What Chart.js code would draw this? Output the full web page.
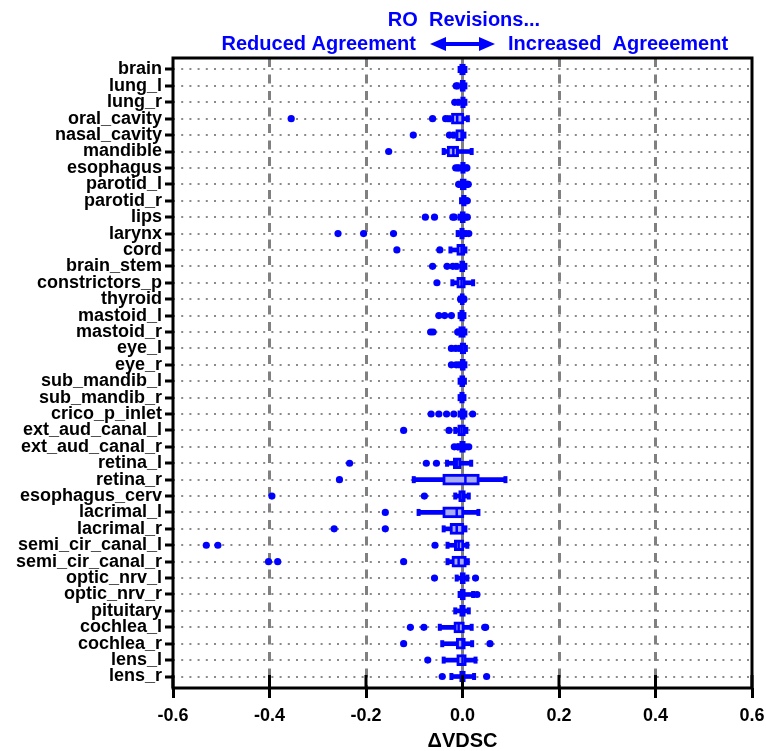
<!DOCTYPE html>
<html>
<head>
<meta charset="utf-8">
<script src="https://cdn.jsdelivr.net/npm/chart.js@4.4.0/dist/chart.umd.min.js"></script>
<style>
  html, body { margin: 0; padding: 0; background: #fff; }
  #wrap { width: 766px; height: 751px; }
</style>
</head>
<body>
<div id="wrap"><canvas id="chart"></canvas></div>
<script>
const structures = ['brain', 'lung_l', 'lung_r', 'oral_cavity', 'nasal_cavity', 'mandible', 'esophagus',
  'parotid_l', 'parotid_r', 'lips', 'larynx', 'cord', 'brain_stem', 'constrictors_p', 'thyroid',
  'mastoid_l', 'mastoid_r', 'eye_l', 'eye_r', 'sub_mandib_l', 'sub_mandib_r', 'crico_p_inlet',
  'ext_aud_canal_l', 'ext_aud_canal_r', 'retina_l', 'retina_r', 'esophagus_cerv', 'lacrimal_l',
  'lacrimal_r', 'semi_cir_canal_l', 'semi_cir_canal_r', 'optic_nrv_l', 'optic_nrv_r', 'pituitary',
  'cochlea_l', 'cochlea_r', 'lens_l', 'lens_r'];

// box plot values (delta VDSC), one entry per structure
const whiskLow = [-0.006, -0.010, -0.008, -0.028, -0.018, -0.039, -0.006, -0.006, -0.003, -0.006,
  -0.010, -0.025, -0.012, -0.021, -0.005, -0.006, -0.009, -0.006, -0.006, -0.006, -0.006, -0.006,
  -0.015, -0.007, -0.032, -0.101, -0.015, -0.091, -0.039, -0.031, -0.031, -0.012, -0.006, -0.015,
  -0.047, -0.042, -0.039, -0.023];
const q1 = [-0.006, -0.005, -0.004, -0.023, -0.014, -0.032, -0.004, -0.005, -0.002, -0.005,
  -0.006, -0.012, -0.006, -0.012, -0.005, -0.006, -0.008, -0.005, -0.005, -0.006, -0.006, -0.005,
  -0.010, -0.006, -0.019, -0.041, -0.008, -0.041, -0.026, -0.017, -0.022, -0.005, -0.005, -0.006,
  -0.018, -0.013, -0.012, -0.006];
const median = [0.000, 0.000, 0.001, -0.011, -0.002, -0.019, 0.001, 0.001, 0.002, 0.000,
  -0.001, -0.002, 0.000, -0.002, 0.000, -0.001, -0.001, 0.000, 0.000, 0.000, 0.000, 0.000,
  -0.002, 0.000, -0.012, 0.006, 0.000, -0.012, -0.012, -0.008, -0.008, 0.000, 0.000, 0.000,
  -0.008, 0.000, 0.000, 0.000];
const q3 = [0.006, 0.006, 0.006, 0.003, 0.003, -0.008, 0.006, 0.008, 0.008, 0.006,
  0.004, 0.005, 0.005, 0.006, 0.004, 0.004, 0.006, 0.007, 0.006, 0.005, 0.004, 0.006,
  0.006, 0.006, -0.003, 0.035, 0.006, 0.003, 0.003, 0.003, 0.008, 0.006, 0.006, 0.006,
  0.004, 0.006, 0.008, 0.006];
const whiskHigh = [0.006, 0.006, 0.006, 0.011, 0.004, 0.019, 0.008, 0.008, 0.008, 0.006,
  0.006, 0.006, 0.006, 0.022, 0.004, 0.004, 0.006, 0.007, 0.006, 0.005, 0.004, 0.006,
  0.008, 0.006, 0.018, 0.089, 0.013, 0.033, 0.006, 0.010, 0.011, 0.010, 0.022, 0.013,
  0.019, 0.020, 0.027, 0.024];
const outliers = [
  [], [-0.013], [-0.016], [-0.355, -0.062, -0.035], [-0.102, -0.027], [-0.153],
  [-0.014, -0.010, 0.009], [-0.008, 0.010, 0.012], [0.010],
  [-0.077, -0.058, -0.017, -0.020, 0.010], [-0.258, -0.205, -0.143, 0.013],
  [-0.136, -0.047], [-0.062, -0.032, -0.020], [-0.053], [-0.004, 0.003],
  [-0.049, -0.037, -0.023], [-0.061, -0.066, -0.010], [-0.014, -0.023], [-0.023, -0.013],
  [], [], [-0.065, -0.049, -0.033, -0.018, 0.021], [-0.122, -0.028], [-0.017, -0.010, 0.013],
  [-0.234, -0.075, -0.054], [-0.255], [-0.395, -0.079], [-0.160], [-0.266, -0.160],
  [-0.531, -0.507, -0.057], [-0.402, -0.383, -0.122], [-0.058, 0.027], [0.030], [],
  [-0.108, -0.080, 0.046, 0.048], [-0.122, 0.057], [-0.072], [-0.042, 0.050]
];
const xTicks = [-0.6, -0.4, -0.2, 0.0, 0.2, 0.4, 0.6];

const BLUE = '#0000ff';
const FONT = '"Liberation Sans", Arial, sans-serif';

const rows = structures.map((s, i) => i);

const framePlugin = {
  id: 'frame',
  beforeDatasetsDraw(chart) {
    const {ctx, chartArea: a, scales: {x}} = chart;
    const zx = x.getPixelForValue(0);
    ctx.save();
    ctx.strokeStyle = '#808080';
    ctx.lineWidth = 3;
    ctx.beginPath();
    ctx.moveTo(zx, a.top);
    ctx.lineTo(zx, a.bottom);
    ctx.stroke();
    ctx.restore();
  },
  afterDraw(chart) {
    const {ctx, chartArea: a, scales: {x}} = chart;
    ctx.save();
    ctx.strokeStyle = '#000';
    ctx.lineWidth = 3;
    ctx.strokeRect(a.left, a.top, a.right - a.left, a.bottom - a.top);
    xTicks.forEach(v => {
      const px = x.getPixelForValue(v);
      ctx.beginPath();
      ctx.moveTo(px, a.bottom - 13);
      ctx.lineTo(px, a.bottom);
      ctx.stroke();
    });

    // header text
    ctx.fillStyle = BLUE;
    ctx.font = 'bold 20px ' + FONT;
    ctx.textBaseline = 'middle';
    ctx.textAlign = 'center';
    ctx.fillText('RO  Revisions...', 464, 20);
    ctx.textAlign = 'right';
    ctx.fillText('Reduced Agreement', 416, 44);
    ctx.textAlign = 'left';
    ctx.fillText('Increased  Agreeement', 508, 44);

    // double arrow
    const y = 44, l = 430, r = 495;
    ctx.strokeStyle = BLUE;
    ctx.lineWidth = 4;
    ctx.beginPath();
    ctx.moveTo(l + 10, y);
    ctx.lineTo(r - 10, y);
    ctx.stroke();
    ctx.beginPath();
    ctx.moveTo(l, y); ctx.lineTo(l + 16, y - 7); ctx.lineTo(l + 16, y + 7); ctx.closePath();
    ctx.moveTo(r, y); ctx.lineTo(r - 16, y - 7); ctx.lineTo(r - 16, y + 7); ctx.closePath();
    ctx.fill();
    ctx.restore();
  }
};

new Chart(document.getElementById('chart'), {
  type: 'scatter',
  data: {
    datasets: [
      {
        type: 'bar',
        indexAxis: 'y',
        data: rows.map(i => ({x: [whiskLow[i], whiskHigh[i]], y: i})),
        backgroundColor: BLUE,
        barThickness: 4,
        grouped: false,
        order: 5
      },
      {
        type: 'bar',
        indexAxis: 'y',
        data: rows.map(i => ({x: [q1[i], q3[i]], y: i})),
        backgroundColor: 'rgb(168,172,245)',
        borderColor: BLUE,
        borderWidth: 3,
        borderSkipped: false,
        barThickness: 11,
        grouped: false,
        order: 4
      },
      {
        data: rows.map(i => ({x: median[i], y: i})),
        pointStyle: 'line',
        rotation: 90,
        radius: 5,
        borderWidth: 2.5,
        borderColor: BLUE,
        order: 3
      },
      {
        data: rows.flatMap(i => [{x: whiskLow[i], y: i}, {x: whiskHigh[i], y: i}]),
        pointStyle: 'line',
        rotation: 90,
        radius: 3.5,
        borderWidth: 4,
        borderColor: BLUE,
        order: 3
      },
      {
        data: rows.flatMap(i => outliers[i].map(v => ({x: v, y: i}))),
        pointStyle: 'circle',
        radius: 3.6,
        borderWidth: 0,
        backgroundColor: BLUE,
        order: 1
      }
    ]
  },
  options: {
    responsive: true,
    maintainAspectRatio: false,
    animation: false,
    devicePixelRatio: 1,
    layout: {padding: {top: 58, right: 14, left: 0, bottom: 0}},
    plugins: {
      legend: {display: false},
      tooltip: {enabled: false}
    },
    scales: {
      x: {
        type: 'linear',
        min: -0.6,
        max: 0.6,
        afterBuildTicks: s => { s.ticks = xTicks.map(v => ({value: v})); },
        afterFit: s => { s.height = 63; s.paddingLeft = 0; s.paddingRight = 0; },
        border: {display: false, dash: [9, 7.5]},
        grid: {
          color: c => (c.tick && Math.abs(c.tick.value) > 0.01 && Math.abs(c.tick.value) < 0.59) ? '#808080' : 'rgba(0,0,0,0)',
          lineWidth: 3,
          tickColor: '#000',
          tickLength: 10,
          tickWidth: 3
        },
        ticks: {
          color: '#000',
          padding: 7,
          font: {family: FONT, size: 18, weight: 'bold'},
          callback: v => v.toFixed(1)
        },
        title: {
          display: true,
          text: 'ΔVDSC',
          color: '#000',
          padding: {top: 0, bottom: -2},
          font: {family: FONT, size: 20, weight: 'bold'}
        }
      },
      y: {
        type: 'linear',
        reverse: true,
        min: -0.7,
        max: 37.7,
        offset: false,
        afterBuildTicks: s => { s.ticks = rows.map(i => ({value: i})); },
        afterFit: s => { s.width = 173; },
        border: {display: false, dash: [2, 6.2]},
        grid: {
          color: '#8a8a8a',
          lineWidth: 2,
          offset: false,
          tickColor: '#000',
          tickLength: 8,
          tickWidth: 3
        },
        ticks: {
          autoSkip: false,
          color: '#000',
          padding: 3,
          font: {family: FONT, size: 18, weight: 'bold'},
          callback: v => structures[v]
        }
      }
    }
  },
  plugins: [framePlugin]
});
</script>
</body>
</html>
